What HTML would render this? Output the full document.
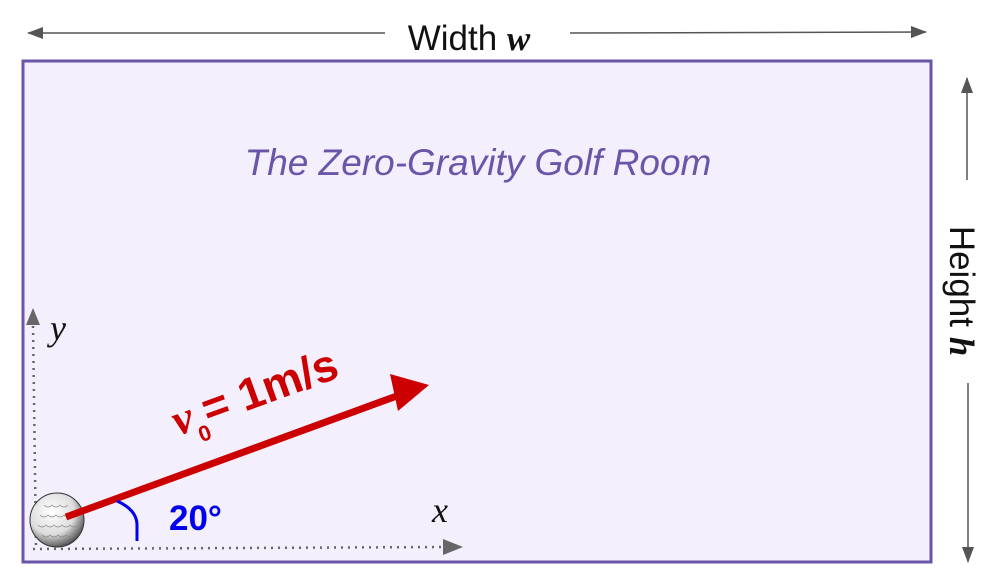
<!DOCTYPE html>
<html><head><meta charset="utf-8"><style>
html,body{margin:0;padding:0;background:#fff;width:1004px;height:586px;overflow:hidden}
svg{display:block}
</style></head><body>
<svg width="1004" height="586" viewBox="0 0 1004 586">
<defs>
<marker id="ga" markerWidth="16" markerHeight="12" refX="15" refY="6" orient="auto" markerUnits="userSpaceOnUse" viewBox="0 0 16 12"><path d="M0,0 L16,6 L0,12 Z" fill="#555"/></marker>
<radialGradient id="ball" cx="0.4" cy="0.35" r="0.7"><stop offset="0" stop-color="#fff"/><stop offset="0.6" stop-color="#ddd"/><stop offset="1" stop-color="#444"/></radialGradient>
</defs>
<rect x="23" y="61" width="908" height="501" fill="#f3effc" stroke="#6a55a8" stroke-width="3"/>
<g stroke="#555" stroke-width="1.5">
<line x1="385" y1="33" x2="28" y2="33" marker-end="url(#ga)"/>
<line x1="570" y1="33" x2="926" y2="32" marker-end="url(#ga)"/>
</g>
<text x="469" y="50" text-anchor="middle" font-family="Liberation Sans, sans-serif" font-size="35" fill="#111">Width <tspan font-family="Liberation Serif, serif" font-style="italic" font-weight="bold">w</tspan></text>
<g stroke="#555" stroke-width="1.5">
<line x1="967" y1="180" x2="967" y2="78" marker-end="url(#ga)"/>
<line x1="968" y1="383" x2="968" y2="562" marker-end="url(#ga)"/>
</g>
<text transform="translate(950,291) rotate(90)" text-anchor="middle" font-family="Liberation Sans, sans-serif" font-size="35" fill="#111">Height <tspan font-family="Liberation Serif, serif" font-style="italic" font-weight="bold">h</tspan></text>
<text x="478" y="175" text-anchor="middle" font-family="Liberation Sans, sans-serif" font-style="italic" font-size="37" fill="#6a55a8">The Zero-Gravity Golf Room</text>
<g stroke="#666" stroke-width="2.5" stroke-dasharray="2 5" fill="none">
<line x1="36" y1="545" x2="33" y2="325"/>
<line x1="33" y1="549" x2="445" y2="547"/>
</g>
<path d="M26,325 L40,325 L33,308 Z" fill="#666"/>
<path d="M443,539 L463,547 L443,555 Z" fill="#666"/>
<text x="50" y="340" font-family="Liberation Serif, serif" font-style="italic" font-size="36" fill="#111">y</text>
<text x="432" y="522" font-family="Liberation Serif, serif" font-style="italic" font-size="36" fill="#111">x</text>
<circle cx="57" cy="520" r="27" fill="url(#ball)" stroke="#333" stroke-width="1"/>
<g stroke="#888" stroke-width="0.7" fill="none">
<path d="M40,515 q4,4 8,0 q4,4 8,0 q4,4 8,0 q4,4 8,0"/><path d="M38,525 q4,4 8,0 q4,4 8,0 q4,4 8,0 q4,4 8,0 q4,4 8,0"/><path d="M42,535 q4,4 8,0 q4,4 8,0 q4,4 8,0 q4,4 8,0"/><path d="M44,505 q4,4 8,0 q4,4 8,0 q4,4 8,0"/>
</g>
<line x1="66" y1="517" x2="405" y2="393" stroke="#cc0000" stroke-width="7"/>
<path d="M390,374 L429,385 L398,411 Z" fill="#cc0000"/>
<text transform="translate(178,436) rotate(-20)" font-family="Liberation Sans, sans-serif" font-weight="bold" font-size="45" fill="#cc0000"><tspan font-family="Liberation Serif, serif" font-style="italic">v</tspan><tspan font-size="22" dy="14">0</tspan><tspan dy="-14">= 1m/s</tspan></text>
<path d="M117,501 Q137,510 137,525 L137,541" fill="none" stroke="#0000ee" stroke-width="3"/>
<text x="169" y="530" font-family="Liberation Sans, sans-serif" font-weight="bold" font-size="35" fill="#0000ee">20°</text>
</svg>
</body></html>
